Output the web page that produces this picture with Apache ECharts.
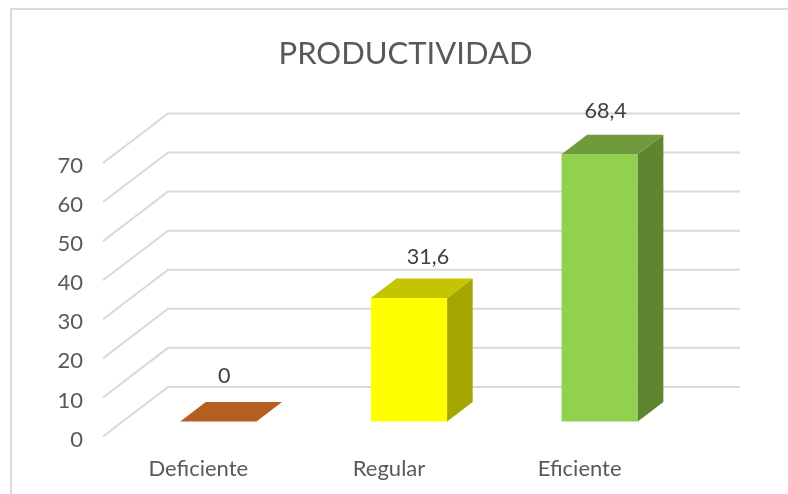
<!DOCTYPE html>
<html>
<head>
<meta charset="utf-8">
<style>
  html, body { margin: 0; padding: 0; background: #fff; }
  #chart { width: 788px; height: 494px; }
</style>
<script src="https://cdn.jsdelivr.net/npm/echarts@6/dist/echarts.min.js"></script>
</head>
<body>
<div id="chart"></div>
<script>
const titleText = 'PRODUCTIVIDAD'
const categories = ['Deficiente', 'Regular', 'Eficiente']
const values = [0, 31.6, 68.4]
const yTicks = [0, 10, 20, 30, 40, 50, 60, 70]

// colores de cada barra: frente, tapa, lado
const frontColors = ['#ed7d31', '#ffff00', '#92d050']
const topColors = ['#b55e22', '#c4c400', '#6f9b3c']
const sideColors = ['#a0521c', '#a6a600', '#5e8530']

// ajuste manual de las etiquetas sobre cada barra
const labelNudge = [[6, -45], [19, -41], [6, -43]]

const fontName = 'Lato, "Noto Sans", sans-serif'

// profundidad como fraccion del ancho de categoria
const wallDepth = [0.341, 0.26]
const barGap = 0.3
const barFrontOffset = [0.105, 0.079]
const barDepth = [0.134, 0.102]

function poly(points, color) {
  return { type: 'polygon', shape: { points }, style: { fill: color } }
}

function renderWall(params, api) {
  const band = api.size([1, 0])[0]
  const p = api.coord([0, api.value(1)])
  const x0 = p[0] - band / 2
  const dx = band * wallDepth[0]
  const dy = band * wallDepth[1]
  return {
    type: 'polyline',
    shape: { points: [[x0, p[1]], [x0 + dx, p[1] - dy], [x0 + dx + band * categories.length, p[1] - dy]] },
    style: { stroke: '#d9d9d9', lineWidth: 2, fill: null }
  }
}

function renderBar(params, api) {
  const i = api.value(0)
  const v = api.value(1)
  const band = api.size([1, 0])[0]
  const top = api.coord([i, v])
  const base = api.coord([i, 0])
  const ox = band * barFrontOffset[0]
  const oy = band * barFrontOffset[1]
  const half = band * (1 - barGap * 2) / 2
  const dx = band * barDepth[0]
  const dy = band * barDepth[1]
  const l = top[0] + ox - half
  const r = top[0] + ox + half
  const t = top[1] - oy
  const b = base[1] - oy
  const children = []
  if (v > 0) {
    children.push(poly([[l, t], [r, t], [r, b], [l, b]], frontColors[i]))
    children.push(poly([[r, t], [r + dx, t - dy], [r + dx, b - dy], [r, b]], sideColors[i]))
  }
  children.push(poly([[l, t], [r, t], [r + dx, t - dy], [l + dx, t - dy]], topColors[i]))
  children.push({
    type: 'text',
    style: {
      text: String(v).replace('.', ','),
      x: (l + r) / 2 + labelNudge[i][0],
      y: t + labelNudge[i][1],
      align: 'center',
      verticalAlign: 'middle',
      fill: '#404040',
      font: '21.5px ' + fontName
    }
  })
  return { type: 'group', children }
}

const chart = echarts.init(document.getElementById('chart'))
chart.setOption({
  animation: false,
  backgroundColor: '#fff',
  title: {
    text: titleText,
    left: 400.5,
    top: 33,
    textAlign: 'center',
    textStyle: { color: '#595959', fontSize: 31, fontWeight: 'normal', fontFamily: fontName }
  },
  graphic: [{
    type: 'polyline',
    shape: { points: [[11, 500], [11, 9], [800, 9]] },
    style: { stroke: '#d9d9d9', lineWidth: 2, fill: null },
    silent: true
  }],
  grid: { left: 103, top: 163, width: 572, height: 273.5 },
  xAxis: {
    type: 'category',
    data: categories,
    axisLine: { show: false },
    axisTick: { show: false },
    axisLabel: { color: '#595959', fontSize: 22, fontFamily: fontName, margin: 21 }
  },
  yAxis: {
    type: 'value',
    min: 0,
    max: 70,
    interval: 10,
    splitLine: { show: false },
    axisLine: { show: false },
    axisTick: { show: false },
    axisLabel: { color: '#595959', fontSize: 22, fontFamily: fontName, margin: 20, verticalAlign: 'top', lineHeight: 6 }
  },
  series: [
    {
      type: 'custom',
      clip: false,
      silent: true,
      renderItem: renderWall,
      encode: { x: 0, y: 1 },
      data: yTicks.map(t => [0, t])
    },
    {
      type: 'custom',
      clip: false,
      silent: true,
      renderItem: renderBar,
      encode: { x: 0, y: 1 },
      data: values.map((v, i) => [i, v])
    }
  ]
})
</script>
</body>
</html>
